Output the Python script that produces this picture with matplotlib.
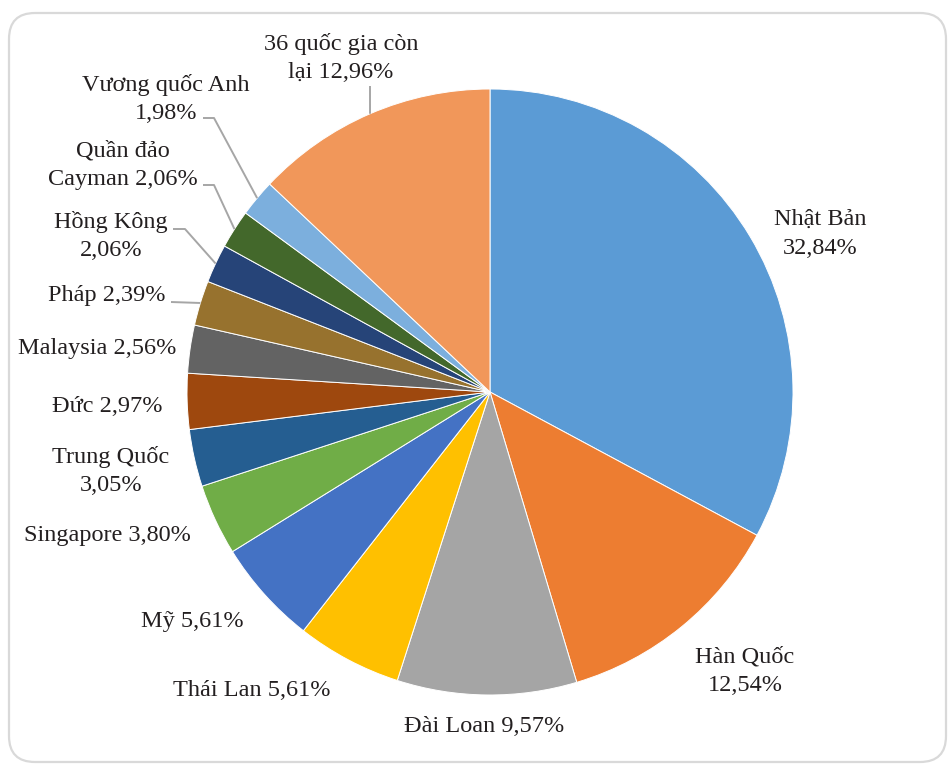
import numpy as np
import matplotlib
matplotlib.use("Agg")
import matplotlib.pyplot as plt
from matplotlib.patches import FancyBboxPatch

# Share of FDI by partner country (%)
countries = ["Nhật Bản", "Hàn Quốc", "Đài Loan", "Thái Lan", "Mỹ", "Singapore",
             "Trung Quốc", "Đức", "Malaysia", "Pháp", "Hồng Kông",
             "Quần đảo\nCayman", "Vương quốc Anh", "36 quốc gia còn\nlại"]
shares = [32.84, 12.54, 9.57, 5.61, 5.61, 3.80, 3.05, 2.97, 2.56, 2.39, 2.06, 2.06, 1.98, 12.96]
colors = ["#5B9BD5", "#ED7D31", "#A5A5A5", "#FFC000", "#4472C4", "#70AD47",
          "#255E91", "#9E480E", "#636363", "#97722E", "#264478", "#43682B",
          "#7CAFDD", "#F1975A"]

# How each label text is laid out: separator between name and value
label_sep = ["\n", "\n", " ", " ", " ", " ", "\n", " ", " ", " ", "\n", " ", "\n", " "]

W, H = 951, 765
fig = plt.figure(figsize=(W / 100, H / 100), dpi=100)
ax = fig.add_axes([0, 0, 1, 1])

def py(y):
    return H - y

# Rounded panel frame
frame = FancyBboxPatch((9, py(762)), 937, 749,
                       boxstyle="round,pad=0,rounding_size=26",
                       fc="white", ec="#d9d9d9", lw=1.6, zorder=0)
ax.add_patch(frame)

cx, cy, R = 490, py(392), 303
wedges, _ = ax.pie(shares, colors=colors, startangle=90, counterclock=False,
                   center=(cx, cy), radius=R, frame=True,
                   wedgeprops=dict(edgecolor="white", linewidth=0.7))
ax.set_xlim(0, W)
ax.set_ylim(0, H)
ax.set_aspect("equal")
ax.axis("off")

# Label centres (pixels from top-left)
label_pos = [(820, 234), (745, 671), (484, 727), (252, 690), (192, 622),
             (107, 536), (111, 471), (107, 406), (97, 348), (107, 295),
             (111, 236), (123, 165), (166, 99), (341, 58)]

# Leader-line start points (pixels) for labels drawn away from their slice
leader_start = {9: [(171, 302)], 10: [(173, 229), (185, 229)],
                11: [(203, 185), (214, 185)], 12: [(203, 118), (214, 118)],
                13: [(370, 86)]}

font = dict(family="Liberation Serif", fontsize=17.5, color="#231f20")

cum = np.concatenate([[0], np.cumsum(shares)])
total = cum[-1]
for i, (name, val) in enumerate(zip(countries, shares)):
    txt = f"{name}{label_sep[i]}{val:.2f}%".replace(".", ",")
    x, y = label_pos[i]
    ax.text(x, py(y), txt, ha="center", va="center", linespacing=1.46,
            **font, zorder=5)
    if i in leader_start:
        mid = (cum[i] + val / 2) / total * 360.0
        theta = np.deg2rad(90 - mid)
        ex, ey = cx + R * np.cos(theta), cy + R * np.sin(theta)
        pts = [(px, py(pyy)) for px, pyy in leader_start[i]] + [(ex, ey)]
        xs, ys = zip(*pts)
        ax.plot(xs, ys, color="#a6a6a6", lw=1.4, zorder=4,
                solid_capstyle="butt")

fig.savefig("out.png", dpi=100, facecolor="white")
